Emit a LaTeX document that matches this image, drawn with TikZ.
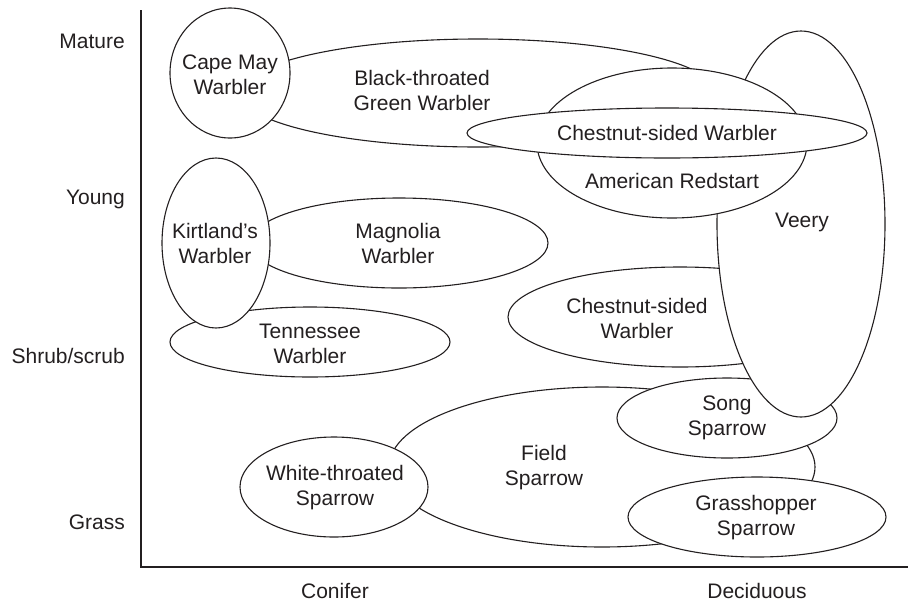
\documentclass[tikz,border=0pt]{standalone}
\usepackage{fontspec}
\setmainfont{Liberation Sans}
\usetikzlibrary{shapes.geometric}
\definecolor{ink}{HTML}{231F20}
\begin{document}
\begin{tikzpicture}[x=1pt,y=-1pt,
  bird/.style={ellipse, draw=ink, fill=white, line width=1.1pt, inner sep=0pt, outer sep=0pt},
  lbl/.style={font=\fontsize{21}{25}\selectfont, text=ink, align=center, inner sep=0pt},
  axlbl/.style={font=\fontsize{21}{25}\selectfont, text=ink, inner sep=0pt},
  axis/.style={draw=ink, line width=2pt}]
\useasboundingbox (0,0) rectangle (910,603);
% axes
\coordinate (otop) at (141,10);
\coordinate (orig) at (141,567);
\coordinate (oright) at (908,567);
\draw[axis] (otop) -- (orig) -- (oright);
% ellipses, back to front
\node[bird, minimum width=426pt, minimum height=160pt] (field) at (602,467) {};
\node[bird, minimum width=220pt, minimum height=80pt] (song) at (727,418) {};
\node[bird, minimum width=258pt, minimum height=80pt] (grass) at (757,517) {};
\node[bird, minimum width=188pt, minimum height=100pt] (white) at (334,487) {};
\node[bird, minimum width=344pt, minimum height=100pt] (csmid) at (680,317) {};
\node[bird, minimum width=168pt, minimum height=386pt] (veery) at (801,224) {};
\node[bird, minimum width=476pt, minimum height=108pt] (btg) at (478,93) {};
\node[bird, minimum width=270pt, minimum height=150pt] (red) at (672,143) {};
\node[bird, minimum width=400pt, minimum height=50pt] (cstop) at (667,133) {};
\node[bird, minimum width=120pt, minimum height=130pt] (cape) at (230,73) {};
\node[bird, minimum width=298pt, minimum height=90pt] (mag) at (399,243) {};
\node[bird, minimum width=280pt, minimum height=70pt] (tenn) at (310,342) {};
\node[bird, minimum width=108pt, minimum height=170pt] (kirt) at (216,243) {};
% labels
\node[lbl] (tcape) at (230,75) {Cape May\\Warbler};
\node[lbl] (tbtg) at (422,90) {Black-throated\\Green Warbler};
\node[lbl] (tcstop) at (667,133) {Chestnut-sided Warbler};
\node[lbl] (tred) at (672,181) {American Redstart};
\node[lbl] (tveery) at (802,222) {Veery};
\node[lbl] (tkirt) at (215,243) {Kirtland’s\\Warbler};
\node[lbl] (tmag) at (398,243) {Magnolia\\Warbler};
\node[lbl] (ttenn) at (310,344) {Tennessee\\Warbler};
\node[lbl] (tcsmid) at (637,318) {Chestnut-sided\\Warbler};
\node[lbl] (tsong) at (727,418) {Song\\Sparrow};
\node[lbl] (tfield) at (544,468) {Field\\Sparrow};
\node[lbl] (twhite) at (335,488) {White-throated\\Sparrow};
\node[lbl] (tgrass) at (756,518) {Grasshopper\\Sparrow};
% axis labels
\node[axlbl, anchor=east] (ymat) at (125,41) {Mature};
\node[axlbl, anchor=east] (yyoung) at (125,199) {Young};
\node[axlbl, anchor=east] (yshrub) at (125,356) {Shrub/scrub};
\node[axlbl, anchor=east] (ygrass) at (125,522) {Grass};
\node[axlbl] (xcon) at (335,591) {Conifer};
\node[axlbl] (xdec) at (757,591) {Deciduous};
\end{tikzpicture}
\end{document}
